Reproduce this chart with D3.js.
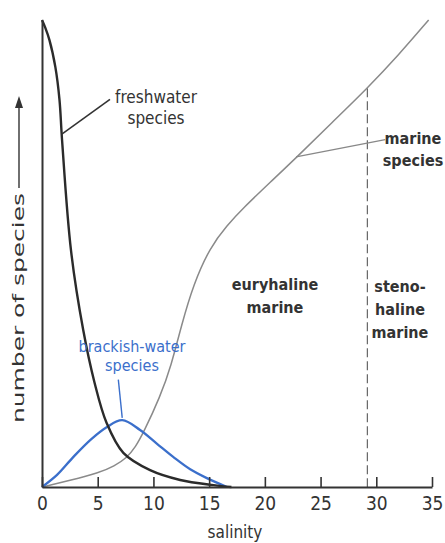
<!DOCTYPE html>
<html><head><meta charset="utf-8">
<script src="https://cdn.jsdelivr.net/npm/d3@7"></script>
<style>
html,body{margin:0;padding:0;background:#fff;}
svg{display:block;}
text{font-family:"DejaVu Sans Condensed","DejaVu Sans",sans-serif;font-stretch:condensed;}
</style></head>
<body>
<svg id="chart" width="445" height="543"></svg>
<script>
// ---- data ----
const xTicks = [0, 5, 10, 15, 20, 25, 30, 35];
const freshSalinity = [0, 0.3, 0.67, 1.2, 1.57, 1.8, 2.6, 3.7, 4.7, 5.8, 7.3, 9.7, 12.4, 15.4, 17];
const freshSpecies  = [100, 98.3, 95.7, 89.9, 82.9, 74.3, 50.7, 33.6, 22.5, 13.7, 7.3, 3.6, 1.5, 0.4, 0];
const brackSalinity = [0, 1.35, 2.8, 4.4, 5.8, 7.2, 8.8, 10.3, 11.8, 13.3, 14.8, 16.6];
const brackSpecies  = [0, 2.6, 6.4, 10.2, 12.8, 14.3, 12.2, 9.3, 6.4, 3.8, 1.9, 0];
const marineSalinity = [0, 2.5, 5.1, 6.5, 7.6, 8.4, 9.1, 10.6, 11.6, 12.5, 13.6, 15.1, 16.6, 18.0, 20.5, 22.9, 26, 29.2, 32, 34.7];
const marineSpecies  = [0, 1.4, 3, 4.5, 6.2, 8.6, 11.6, 19.3, 26, 34.5, 43.5, 51.4, 56.0, 59.6, 65.3, 70.7, 78, 85.4, 92.5, 100];
const stenoBoundary = 29.2;
const annotFresh = {from: [1.75, 75.5], to: [6.1, 83]};
const annotBrack = {from: [7.2, 14.8], to: [6.85, 23]};
const annotMarine = {from: [22.8, 70.7], to: [30.8, 74.4]};

const svg = d3.select("#chart");
const x = d3.scaleLinear().domain([0, 35]).range([42, 432]);
const y = d3.scaleLinear().domain([0, 100]).range([487, 20]);

const toPts = (xs, ys) => xs.map((v, i) => [v, ys[i]]);
const line = d3.line().x(d => x(d[0])).y(d => y(d[1])).curve(d3.curveCatmullRom.alpha(0.5));
const smooth = d3.line().x(d => x(d[0])).y(d => y(d[1])).curve(d3.curveBasis);

// dashed boundary
svg.append("line")
  .attr("x1", x(stenoBoundary)).attr("x2", x(stenoBoundary))
  .attr("y1", y(85.4)).attr("y2", y(0))
  .attr("stroke", "#666").attr("stroke-width", 1.2).attr("stroke-dasharray", "9,4");

// curves
svg.append("path").datum(toPts(marineSalinity, marineSpecies))
  .attr("d", smooth).attr("fill", "none").attr("stroke", "#8a8a8a").attr("stroke-width", 1.5);
svg.append("path").datum(toPts(brackSalinity, brackSpecies))
  .attr("d", line).attr("fill", "none").attr("stroke", "#3b6fcb").attr("stroke-width", 2.3);
svg.append("path").datum(toPts(freshSalinity, freshSpecies))
  .attr("d", line).attr("fill", "none").attr("stroke", "#2b2b2b").attr("stroke-width", 2.4);

// axes
const xAxis = svg.append("g").attr("transform", `translate(0,${y(0)})`)
  .call(d3.axisBottom(x).tickValues(xTicks).tickSize(-10).tickSizeOuter(0).tickPadding(10));
xAxis.select(".domain").attr("stroke", "#333").attr("stroke-width", 2);
xAxis.selectAll(".tick line").attr("stroke", "#333").attr("stroke-width", 1.6);
xAxis.selectAll(".tick text").attr("fill", "#333").style("font-size", "19px")
  .style("font-family", '"DejaVu Sans Condensed","DejaVu Sans",sans-serif');

const yAxis = svg.append("g").attr("transform", `translate(${x(0)},0)`)
  .call(d3.axisLeft(y).tickValues([]).tickSizeOuter(0));
yAxis.select(".domain").attr("stroke", "#333").attr("stroke-width", 2);

// axis titles
svg.append("text").attr("x", 235).attr("y", 538).attr("text-anchor", "middle")
  .attr("fill", "#333").style("font-size", "17px").text("salinity");

svg.append("text").attr("transform", "translate(24,308) rotate(-90)")
  .attr("text-anchor", "middle").attr("fill", "#333").style("font-size", "16px")
  .attr("textLength", 230).attr("lengthAdjust", "spacingAndGlyphs")
  .text("number of species");
svg.append("line").attr("x1", 19).attr("x2", 19).attr("y1", 188).attr("y2", 104)
  .attr("stroke", "#333").attr("stroke-width", 1.4);
svg.append("path").attr("d", "M19,96 L15,108 L23,108 Z").attr("fill", "#333");

// annotation leader lines
const lead = (a, col, w) => svg.append("line")
  .attr("x1", x(a.from[0])).attr("y1", y(a.from[1]))
  .attr("x2", x(a.to[0])).attr("y2", y(a.to[1]))
  .attr("stroke", col).attr("stroke-width", w);
lead(annotFresh, "#333", 1.6);
lead(annotBrack, "#3b6fcb", 1.4);
lead(annotMarine, "#888", 1.3);

// labels
const label = (lines, cx, y0, dy, opts) => {
  const t = svg.append("text").attr("text-anchor", opts.anchor || "middle")
    .attr("fill", opts.color).style("font-size", opts.size)
    .style("font-weight", opts.weight || "normal");
  lines.forEach((s, i) => t.append("tspan").attr("x", cx).attr("y", y0 + i * dy).text(s));
};
label(["freshwater", "species"], 156, 103, 21, {color: "#333", size: "17px"});
label(["brackish-water", "species"], 132, 352, 19, {color: "#3b6fcb", size: "16px"});
label(["marine", "species"], 413, 144, 22, {color: "#333", size: "16px", weight: "bold"});
label(["euryhaline", "marine"], 275, 290, 23, {color: "#333", size: "16px", weight: "bold"});
label(["steno-", "haline", "marine"], 400, 292, 23, {color: "#333", size: "16px", weight: "bold"});
</script>
</body></html>
